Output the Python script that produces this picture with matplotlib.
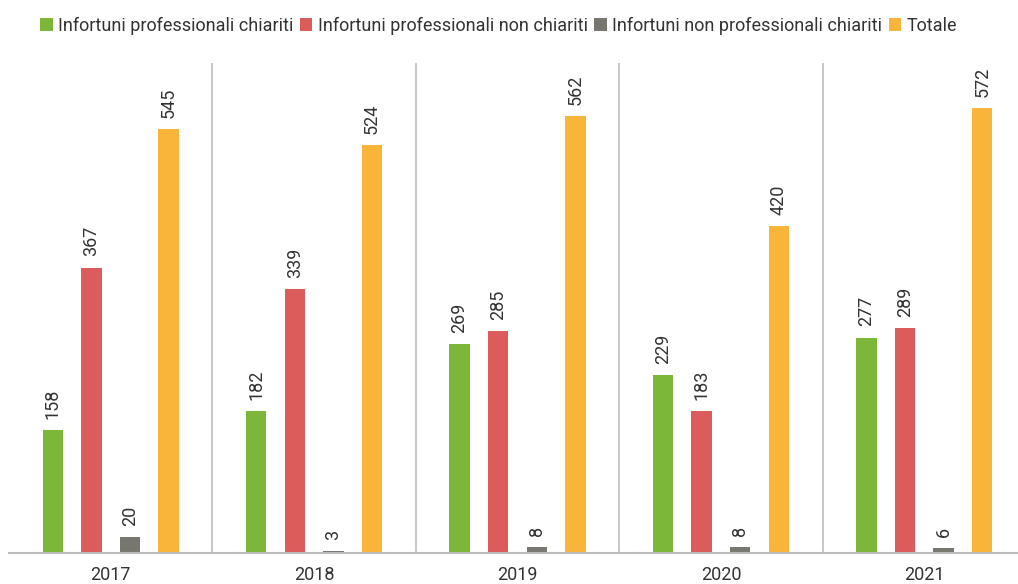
import numpy as np
import matplotlib.pyplot as plt

plt.rcParams['font.family'] = ['Roboto', 'DejaVu Sans']

years = ['2017', '2018', '2019', '2020', '2021']
series_names = ['Infortuni professionali chiariti', 'Infortuni professionali non chiariti',
                'Infortuni non professionali chiariti', 'Totale']
prof_chiariti = [158, 182, 269, 229, 277]
prof_non_chiariti = [367, 339, 285, 183, 289]
non_prof_chiariti = [20, 3, 8, 8, 6]
totale = [545, 524, 562, 420, 572]
colors = ['#7db73a', '#dc5b5b', '#78776f', '#f9b539']

series = [prof_chiariti, prof_non_chiariti, non_prof_chiariti, totale]

fig = plt.figure(figsize=(10.18, 5.84), dpi=100)
ax = fig.add_axes([9 / 1018, (584 - 553) / 584, 1017 / 1018, 490 / 584])

x = np.arange(len(years))
step = 0.19
width = 0.1
for i, (vals, name, c) in enumerate(zip(series, series_names, colors)):
    pos = x + (i - 1.5) * step
    bars = ax.bar(pos, vals, width, color=c, label=name)
    for b, v in zip(bars, vals):
        ax.annotate(str(v), (b.get_x() + b.get_width() / 2, v), xytext=(0, 8),
                    textcoords='offset points', rotation=90, ha='center', va='bottom',
                    fontsize=13, color='#333333')

for k in range(1, len(years)):
    ax.axvline(k - 0.5, color='#bdbdbd', lw=1.2)

ax.set_xlim(-0.5, len(years) - 0.5)
ax.set_ylim(0, 630)
ax.set_xticks(x)
ax.set_xticklabels(years, fontsize=13, color='#333333')
ax.tick_params(axis='x', length=0, pad=9)
ax.set_yticks([])
for s in ['top', 'right', 'left']:
    ax.spines[s].set_visible(False)
ax.spines['bottom'].set_color('#bdbdbd')
ax.spines['bottom'].set_linewidth(1.5)

leg = fig.legend(loc='upper left', bbox_to_anchor=(40 / 1018, 1 - 17 / 584), ncol=4, frameon=False,
                 fontsize=13, handlelength=0.7, handleheight=0.7, handletextpad=0.3,
                 columnspacing=0.35, borderaxespad=0, borderpad=0)
for t in leg.get_texts():
    t.set_color('#333333')

fig.savefig('out.png', dpi=100)
